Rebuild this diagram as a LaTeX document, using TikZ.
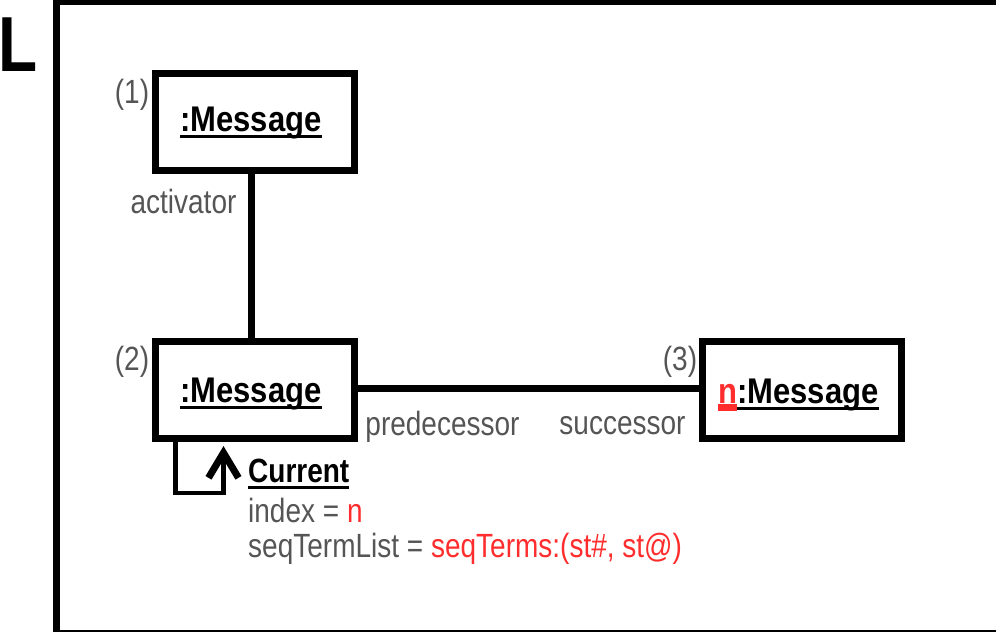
\documentclass[tikz,border=0pt]{standalone}
\usepackage{graphicx}
\usepackage{fontspec}
\setmainfont{Liberation Sans}
\usetikzlibrary{arrows.meta,calc}
\definecolor{lblgray}{RGB}{85,85,85}
\definecolor{hotred}{RGB}{255,45,45}
% underline with a rule of given colour, offset and thickness
\newcommand\myul[4]{\setbox0\hbox{#4}\rlap{\textcolor{#1}{\rule[#2]{\wd0}{#3}}}\box0}
% tall, slightly condensed lettering
\newcommand\vst[1]{\scalebox{1}[1.2]{#1}}
\newcommand\vttl[1]{\scalebox{1}[1.15]{#1}}
\begin{document}
\begin{tikzpicture}[x=1pt,y=-1pt,
  box/.style={draw, line width=7pt, minimum width=199pt, minimum height=97pt, inner sep=0pt},
  wire/.style={line width=7pt},
  lbl/.style={inner sep=0pt, anchor=base, text=lblgray, font=\fontsize{28}{30}\selectfont},
  attr/.style={lbl, anchor=base west},
  ttl/.style={inner sep=0pt, anchor=base, font=\fontsize{31}{34}\selectfont\bfseries}]
\useasboundingbox (0,0) rectangle (996,632);

% frame
\draw[line width=7pt] (56.7,0) -- (56.7,632);
\draw[line width=5pt] (56.7,2.4) -- (996,2.4);
\draw[line width=1.5pt] (56.7,631.2) -- (996,631.2);
\node[inner sep=0pt, anchor=base west, font=\fontsize{64}{70}\selectfont\bfseries] (ltr) at (-1.5,71) {\scalebox{1}[1.22]{L}};

% objects
\node[box] (b1) at (255,122) {};
\node[box] (b2) at (255,390) {};
\node[box] (b3) at (802,390) {};

\node[ttl] (t1) at (251,131) {\myul{black}{-6.5pt}{3pt}{\vttl{:Message}}};
\node[ttl] (t2) at (251,402) {\myul{black}{-6.5pt}{3pt}{\vttl{:Message}}};
\node[ttl] (t3) at (798.5,403) {\myul{hotred}{-7.5pt}{6.5pt}{\vttl{\textcolor{hotred}{n}}}\myul{black}{-6.5pt}{3pt}{\vttl{:Message}}};

\node[lbl] (n1) at (132,103) {\vst{(1)}};
\node[lbl] (n2) at (132,370) {\vst{(2)}};
\node[lbl] (n3) at (680,370) {\vst{(3)}};

% links
\draw[wire] ([xshift=-4pt]b1.south) -- ([xshift=-4pt]b2.north);
\draw[wire] ([yshift=2pt]b2.east) -- ([yshift=2pt]b3.west);

\node[lbl] (ra) at (183.5,213) {\vst{activator}};
\node[lbl] (rp) at (442.5,435) {\vst{predecessor}};
\node[lbl] (rs) at (622.5,434) {\vst{successor}};

% self link with current state
\coordinate (ls) at ($(b2.south west)+(23.5,0)$);
\coordinate (le) at ($(b2.south west)+(71.5,4)$);
\draw[line width=4.5pt, -{Straight Barb[length=25pt,width=30pt,line width=7pt]}] (ls) -- ++(0,51) -| (le);

\node[inner sep=0pt, anchor=base west, font=\fontsize{28}{30}\selectfont\bfseries] (cur) at (248,482) {\myul{black}{-7pt}{3.5pt}{\vst{Current}}};
\node[attr] (idx) at (248,522) {\vst{index = \textcolor{hotred}{n}}};
\node[attr] (seq) at (248,557) {\vst{seqTermList = \textcolor{hotred}{seqTerms:(st\#, st@)}}};
\end{tikzpicture}
\end{document}
